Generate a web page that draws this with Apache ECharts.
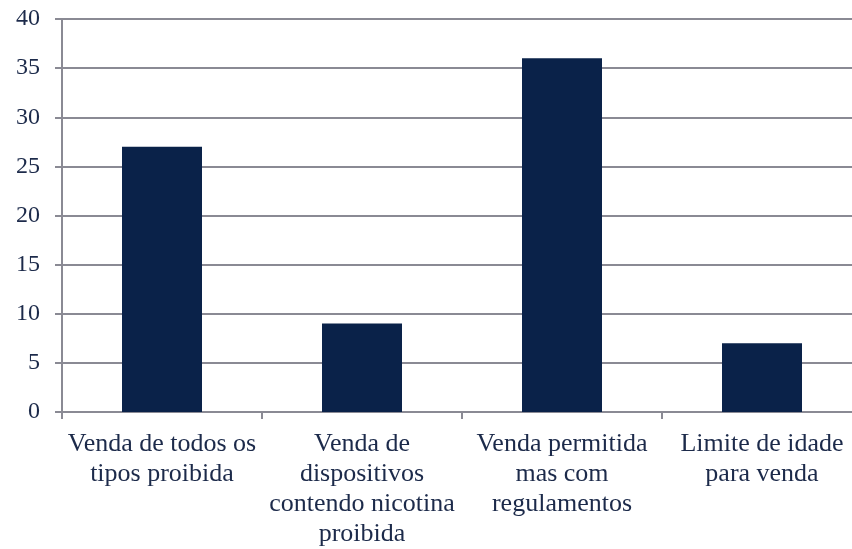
<!DOCTYPE html>
<html><head><meta charset="utf-8">
<script src="https://cdn.jsdelivr.net/npm/echarts@6/dist/echarts.min.js"></script>
<style>html,body{margin:0;padding:0;background:#fff;overflow:hidden;width:852px;height:549px}#c{width:862px;height:549px}</style>
</head><body><div id="c"></div>
<script>
const categories = ["Venda de todos os\ntipos proibida", "Venda de\ndispositivos\ncontendo nicotina\nproibida", "Venda permitida\nmas com\nregulamentos", "Limite de idade\npara venda"];
const values = [27, 9, 36, 7];
const yTicks = {min: 0, max: 40, interval: 5};

const chart = echarts.init(document.getElementById('c'));
const textColor = '#1c2a4a';
const lineColor = '#8a8a94';
const font = '"Liberation Serif", serif';
chart.setOption({
  animation: false,
  grid: {left: 62, right: 0, top: 19, bottom: 137, containLabel: false, outerBoundsMode: 'none'},
  xAxis: {
    type: 'category', data: categories,
    axisLine: {lineStyle: {color: lineColor, width: 2}},
    axisTick: {show: true, length: 7, lineStyle: {color: lineColor, width: 2}},
    axisLabel: {color: textColor, fontFamily: font, fontSize: 26, lineHeight: 30, margin: 17, interval: 0}
  },
  yAxis: {
    type: 'value', min: yTicks.min, max: yTicks.max, interval: yTicks.interval,
    axisLine: {show: true, lineStyle: {color: lineColor, width: 2}},
    axisTick: {show: true, length: 7, lineStyle: {color: lineColor, width: 2}},
    splitLine: {lineStyle: {color: lineColor, width: 2}},
    axisLabel: {color: textColor, fontFamily: font, fontSize: 24, margin: 22}
  },
  series: [{type: 'bar', data: values, barWidth: '40%', itemStyle: {color: '#0a2249'}}]
});
</script></body></html>
